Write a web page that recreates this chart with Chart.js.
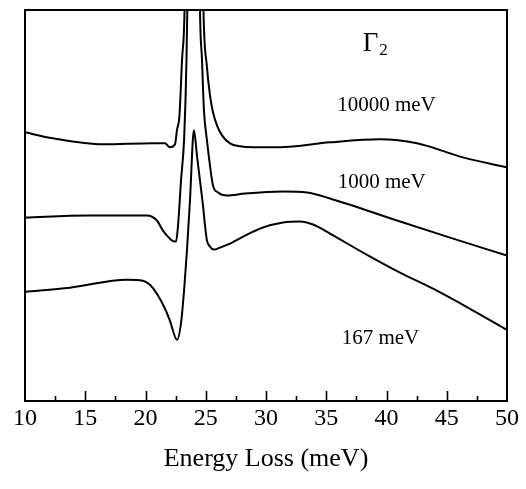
<!DOCTYPE html>
<html>
<head>
<meta charset="utf-8">
<title>Energy Loss spectra</title>
<script src="https://cdn.jsdelivr.net/npm/chart.js@4.4.1/dist/chart.umd.min.js"></script>
<style>
  html, body { margin: 0; padding: 0; background: #fff; }
  #wrap { width: 526px; height: 489px; }
</style>
</head>
<body>
<div id="wrap"><canvas id="c" width="526" height="489"></canvas></div>
<script>
// Energy loss (meV) and intensity (arb. units) for each incident-energy curve.
// The main peaks run off the top of the plot, so their apex values lie above the axis limit.
const loss10000 = [10.00, 12.32, 16.47, 20.62, 21.62, 22.03, 22.45, 22.61, 22.82, 23.03, 23.24, 23.98, 24.81, 25.10, 25.35, 25.60, 25.93, 26.35, 27.01, 27.84, 28.92, 31.16, 35.31, 39.46, 42.53, 46.35, 50.00];
const int10000  = [268, 262, 256, 257, 257, 253, 256, 270, 285, 340, 390, 1100, 390, 333, 305, 288, 275, 265, 257, 254, 253, 253, 258, 261, 257, 243, 233];

const loss1000 = [10.00, 15.15, 20.12, 20.95, 21.45, 21.78, 22.20, 22.53, 22.70, 22.95, 23.20, 23.32, 23.40, 23.47, 23.98, 24.52, 24.69, 24.85, 25.10, 25.35, 25.60, 26.02, 26.76, 28.26, 31.41, 33.40, 35.31, 40.87, 45.27, 50.00];
const int1000  = [183, 185, 185, 180, 170, 165, 160, 159, 175, 220, 260, 300, 340, 390, 1000, 390, 340, 290, 260, 235, 215, 208, 205, 207, 209, 208, 202, 180, 163, 145];

const loss167 = [10.00, 13.73, 18.46, 19.79, 20.37, 20.95, 21.62, 22.03, 22.61, 22.95, 23.20, 23.44, 23.69, 24.02, 24.27, 24.52, 24.77, 24.94, 25.10, 25.35, 25.68, 26.18, 27.01, 28.42, 29.75, 31.41, 32.82, 33.90, 35.31, 38.05, 41.12, 43.86, 46.93, 50.00];
const int167  = [109, 113, 121, 120, 116, 107, 92, 80, 61, 78, 110, 150, 200, 270, 245, 220, 195, 175, 160, 154, 151, 153, 157, 166, 173, 178, 179, 176, 167, 148, 128, 112, 92, 71];

// Axis settings
const xMin = 10, xMax = 50, xStep = 5, xMinorStep = 2.5;
const yMin = 0, yMax = 390;

// Curve labels: [text, energy loss, intensity at baseline]
const curveLabels = [
  ['10000 meV', 40.0, 289],
  ['1000 meV', 39.6, 212],
  ['167 meV', 39.5, 57]
];
const symmetryLabel = ['\u0393', '2', 39.0, 349];

function pairs(xs, ys) {
  return xs.map((x, i) => ({ x: x, y: ys[i] }));
}

const serif = '"Liberation Serif", "DejaVu Serif", serif';

// Frame, inward tick marks and the text annotations inside the plot.
const framePlugin = {
  id: 'frame',
  afterDraw(chart) {
    const ctx = chart.ctx;
    const a = chart.chartArea;
    const xs = chart.scales.x;
    const ys = chart.scales.y;
    ctx.save();
    ctx.strokeStyle = '#000';
    ctx.lineWidth = 2;
    ctx.strokeRect(a.left, a.top, a.right - a.left, a.bottom - a.top);

    ctx.lineWidth = 1.6;
    for (let v = xMin + xMinorStep; v < xMax; v += xMinorStep) {
      const px = Math.round(xs.getPixelForValue(v)) + 0.5;
      const major = Math.abs(v / xStep - Math.round(v / xStep)) < 1e-6;
      const len = major ? 10 : 5;
      ctx.beginPath();
      ctx.moveTo(px, a.bottom);
      ctx.lineTo(px, a.bottom - len);
      ctx.stroke();
    }

    ctx.fillStyle = '#000';
    ctx.textAlign = 'center';
    ctx.textBaseline = 'alphabetic';
    ctx.font = '21px ' + serif;
    curveLabels.forEach(([t, e, v]) => {
      ctx.fillText(t, xs.getPixelForValue(e), ys.getPixelForValue(v));
    });

    const [g, sub, ge, gv] = symmetryLabel;
    const gx = xs.getPixelForValue(ge);
    const gy = ys.getPixelForValue(gv);
    ctx.font = '27px ' + serif;
    const gw = ctx.measureText(g).width;
    ctx.textAlign = 'left';
    ctx.fillText(g, gx - gw / 2 - 4, gy);
    ctx.font = '17px ' + serif;
    ctx.fillText(sub, gx + gw / 2 - 3, gy + 4);
    ctx.restore();
  }
};

const lineStyle = {
  borderColor: '#000',
  backgroundColor: '#000',
  borderWidth: 2,
  pointRadius: 0,
  fill: false,
  cubicInterpolationMode: 'monotone'
};

new Chart(document.getElementById('c'), {
  type: 'line',
  data: {
    datasets: [
      Object.assign({ label: '10000 meV', data: pairs(loss10000, int10000) }, lineStyle),
      Object.assign({ label: '1000 meV', data: pairs(loss1000, int1000) }, lineStyle),
      Object.assign({ label: '167 meV', data: pairs(loss167, int167) }, lineStyle)
    ]
  },
  options: {
    responsive: false,
    animation: false,
    layout: { padding: { left: 25, right: 19, top: 10, bottom: 14 } },
    plugins: {
      legend: { display: false },
      tooltip: { enabled: false }
    },
    scales: {
      x: {
        type: 'linear',
        min: xMin,
        max: xMax,
        grid: { display: false, drawTicks: false },
        border: { display: false },
        ticks: {
          stepSize: xStep,
          padding: 3,
          color: '#000',
          maxRotation: 0,
          font: { family: serif, size: 24 }
        },
        title: {
          display: true,
          text: 'Energy Loss (meV)',
          color: '#000',
          padding: { top: 8, bottom: 0 },
          font: { family: serif, size: 26 }
        }
      },
      y: {
        type: 'linear',
        min: yMin,
        max: yMax,
        display: false
      }
    }
  },
  plugins: [framePlugin]
});
</script>
</body>
</html>
